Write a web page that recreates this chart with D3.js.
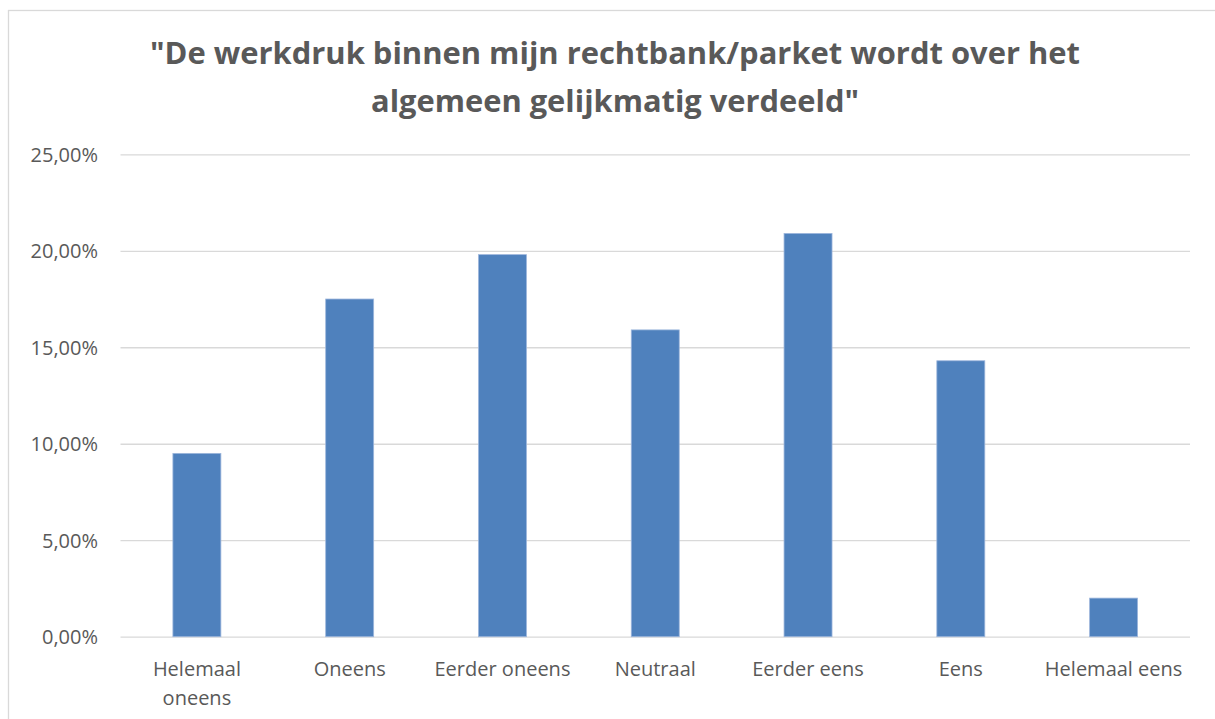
<!DOCTYPE html>
<html>
<head>
<meta charset="utf-8">
<script src="https://cdn.jsdelivr.net/npm/d3@7"></script>
<style>
  html, body { margin: 0; padding: 0; background: #fff; }
  svg { display: block; }
</style>
</head>
<body>
<svg id="chart" width="1215" height="719"></svg>
<script>
const titleLines = ["\"De werkdruk binnen mijn rechtbank/parket wordt over het", "algemeen gelijkmatig verdeeld\""];
const categories = ["Helemaal oneens", "Oneens", "Eerder oneens", "Neutraal", "Eerder eens", "Eens", "Helemaal eens"];
const values = [9.5, 17.5, 19.8, 15.9, 20.9, 14.3, 2.0];
const yTicks = [0, 5, 10, 15, 20, 25];

const W = 1215, H = 719;
const margin = { left: 120.5, right: 25, top: 154.5, bottom: 82 };
const svg = d3.select("#chart");
const textColor = "#595959";
const font = "'Open Sans', sans-serif";

// outer chart border
svg.append("rect")
  .attr("x", 8.5).attr("y", 10.5)
  .attr("width", W + 10).attr("height", H + 10)
  .attr("fill", "none").attr("stroke", "#d9d9d9").attr("stroke-width", 1.3);

const x = d3.scaleBand().domain(categories)
  .range([margin.left, 1190]).paddingInner(0.686).paddingOuter(0.343);
const y = d3.scaleLinear().domain([0, 25]).range([636.7, 154.3]);

// gridlines
const yAxis = d3.axisLeft(y).tickValues(yTicks)
  .tickSize(-(1190 - margin.left))
  .tickFormat(d => d3.format(".2f")(d).replace(".", ",") + "%");
const gy = svg.append("g").attr("transform", `translate(${margin.left},0)`).call(yAxis);
gy.select(".domain").remove();
gy.selectAll(".tick line").attr("stroke", "#d9d9d9").attr("stroke-width", 1.3);
gy.selectAll(".tick text")
  .attr("x", -22.5).attr("dy", "0.35em")
  .attr("fill", textColor).style("font-family", font).style("font-size", "20px");

// bars
svg.append("g").selectAll("rect").data(values).join("rect")
  .attr("x", (d, i) => x(categories[i]))
  .attr("width", x.bandwidth())
  .attr("y", d => y(d))
  .attr("height", d => y(0) - y(d))
  .attr("fill", "#4f81bd")
  .attr("stroke", "#9db6dc").attr("stroke-width", 0.8);

// x axis labels
const xAxis = d3.axisBottom(x).tickSize(0).tickPadding(0);
const gx = svg.append("g").attr("transform", `translate(0,${y(0)})`).call(xAxis);
gx.select(".domain").remove();
gx.selectAll(".tick text")
  .attr("fill", textColor).style("font-family", font).style("font-size", "20px")
  .each(function(d) {
    const t = d3.select(this);
    const limit = x.step() - 6;
    t.text(null).attr("y", 0).attr("dy", null);
    const words = d.split(" ");
    let lines = [], cur = [];
    const probe = t.append("tspan");
    words.forEach(w => {
      const test = cur.concat([w]).join(" ");
      probe.text(test);
      if (probe.node().getComputedTextLength() > limit && cur.length) {
        lines.push(cur.join(" "));
        cur = [w];
      } else cur.push(w);
    });
    lines.push(cur.join(" "));
    probe.remove();
    lines.forEach((ln, i) => {
      t.append("tspan").attr("x", 0).attr("y", 39 + i * 29.3).text(ln);
    });
  });

// title
const title = svg.append("text")
  .attr("text-anchor", "middle")
  .attr("fill", textColor)
  .style("font-family", font).style("font-size", "30px").style("font-weight", "bold");
const titleWidths = [930, 488];
titleLines.forEach((ln, i) => {
  title.append("tspan").attr("x", 615).attr("y", 63.5 + i * 48)
    .attr("textLength", titleWidths[i]).attr("lengthAdjust", "spacingAndGlyphs")
    .text(ln);
});
</script>
</body>
</html>
